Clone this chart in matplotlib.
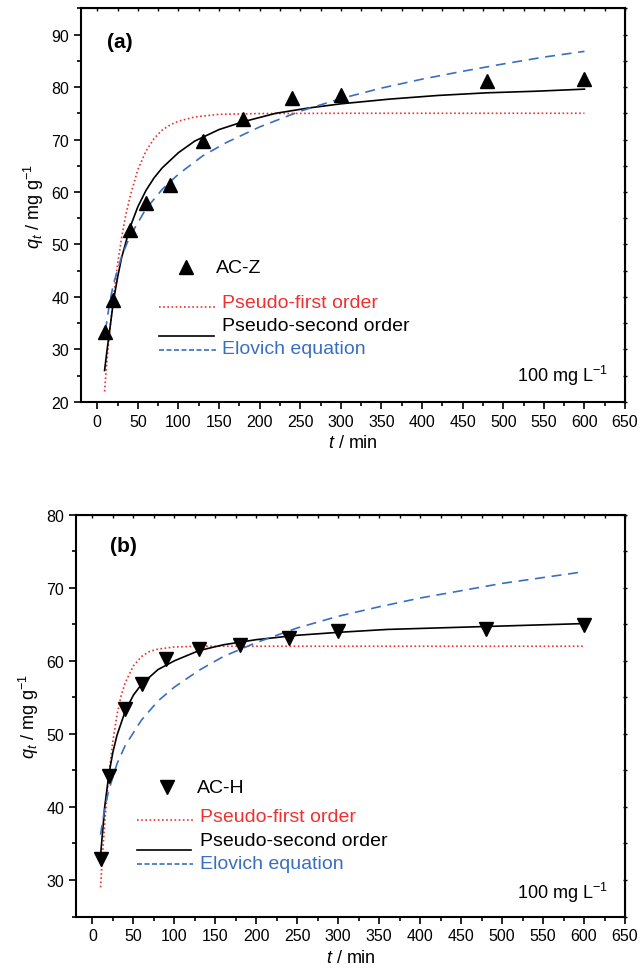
import matplotlib
matplotlib.use("Agg")
from matplotlib import pyplot as plt

plt.rcParams['font.family'] = ['Liberation Sans', 'DejaVu Sans']
plt.rcParams['mathtext.fontset'] = 'custom'
plt.rcParams['mathtext.rm'] = 'Liberation Sans'
plt.rcParams['mathtext.it'] = 'Liberation Sans:italic'

# experimental points
t_exp = [10, 20, 40, 60, 90, 130, 180, 240, 300, 480, 600]
q_acz = [33.3, 39.5, 52.8, 58.0, 61.3, 69.7, 74.0, 78.0, 78.4, 81.1, 81.5]
q_ach = [32.9, 44.2, 53.4, 56.8, 60.3, 61.6, 62.2, 63.1, 64.1, 64.4, 64.9]

# curves panel (a)
t_pfo_a = [9, 12, 15, 20, 25, 30, 35, 40, 50, 60, 70, 80, 90, 100, 120, 150, 200, 300, 400, 500, 600]
q_pfo_a = [22.0, 28.0, 33.0, 40.0, 46.2, 51.3, 55.5, 58.9, 64.3, 67.8, 70.2, 71.8, 72.8, 73.5, 74.3, 74.8, 74.95, 75.0, 75.0, 75.0, 75.0]
t_pso_a = [9, 12, 15, 20, 25, 30, 40, 50, 60, 70, 80, 100, 120, 150, 180, 220, 260, 300, 360, 420, 480, 540, 600]
q_pso_a = [26.0, 29.8, 33.3, 39.3, 43.7, 47.5, 53.1, 57.2, 60.3, 62.7, 64.6, 67.5, 69.7, 71.9, 73.4, 75.0, 76.0, 76.8, 77.7, 78.4, 78.9, 79.2, 79.6]
t_elo_a = [10, 15, 20, 30, 40, 60, 80, 100, 130, 160, 200, 250, 300, 350, 400, 450, 500, 550, 600]
q_elo_a = [33.5, 38.7, 42.5, 47.7, 51.5, 56.8, 60.5, 63.4, 66.9, 69.5, 72.4, 75.4, 77.8, 79.8, 81.5, 83.0, 84.4, 85.7, 86.8]

# curves panel (b)
t_pfo_b = [10, 12, 15, 20, 25, 30, 35, 40, 50, 60, 70, 80, 100, 130, 200, 300, 400, 500, 600]
q_pfo_b = [29.0, 32.8, 37.8, 44.4, 49.0, 52.6, 55.2, 57.0, 59.3, 60.6, 61.3, 61.6, 61.9, 62.0, 62.0, 62.0, 62.0, 62.0, 62.0]
t_pso_b = [10, 15, 20, 25, 30, 40, 50, 60, 80, 100, 130, 160, 200, 250, 300, 360, 420, 480, 540, 600]
q_pso_b = [33.4, 40.0, 44.4, 47.5, 49.8, 53.1, 55.3, 56.8, 58.8, 60.0, 61.4, 62.2, 62.9, 63.5, 63.9, 64.3, 64.5, 64.7, 64.9, 65.1]
t_elo_b = [10, 15, 20, 30, 40, 60, 80, 100, 130, 160, 200, 250, 300, 350, 400, 450, 500, 550, 600]
q_elo_b = [36.2, 39.8, 42.3, 45.9, 48.4, 51.9, 54.5, 56.4, 58.7, 60.6, 62.5, 64.5, 66.1, 67.4, 68.6, 69.6, 70.6, 71.4, 72.2]

RED = '#f03030'
BLUE = '#3a6fc0'


def style_axes(ax, ymin, ymax, yticks):
    ax.set_xlim(-20, 650)
    ax.set_ylim(ymin, ymax)
    ax.set_xticks(range(0, 651, 50))
    ax.set_xticks(range(25, 651, 50), minor=True)
    ax.set_yticks(yticks)
    ax.set_yticks(range(ymin, ymax + 1, 5), minor=True)
    ax.tick_params(which='major', direction='out', length=5, width=1.2, labelsize=11.5)
    ax.tick_params(which='minor', direction='out', length=3, width=1.2)
    for s in ax.spines.values():
        s.set_linewidth(1.5)
    ax.set_xlabel(r'$t$ / min', fontsize=13, labelpad=4)
    ax.set_ylabel(r'$q_t$ / mg g$^{-1}$', fontsize=13, labelpad=4)
    # ticks on top and right spine
    tw = ax.secondary_xaxis('top')
    tw.set_xticks(range(0, 651, 50))
    tw.set_xticks(range(25, 651, 50), minor=True)
    tw.tick_params(which='both', direction='in', length=2.5, width=1.0, labeltop=False)
    rw = ax.secondary_yaxis('right')
    rw.set_yticks(yticks)
    rw.set_yticks(range(ymin, ymax + 1, 5), minor=True)
    rw.tick_params(which='both', direction='inout', length=3, width=1.0, labelright=False)


def draw_panel(ax, q_pts, marker, name, tag, curves, key):
    (tp, qp), (ts, qs), (te, qe) = curves
    ax.plot(tp, qp, linestyle=(0, (1, 1.5)), color=RED, lw=1.2)
    ax.plot(ts, qs, '-', color='black', lw=1.2)
    ax.plot(te, qe, linestyle=(0, (6, 4)), color=BLUE, lw=1.2)
    ax.plot(t_exp, q_pts, marker, color='black', ms=9.5, linestyle='none')

    mx, my, tx, ly_r, ty_r, ly_k, ty_k, ly_b, ty_b, x0, x1 = key
    tr = ax.transAxes
    ax.plot([mx], [my], marker, color='black', ms=9.5, transform=tr)
    ax.text(tx, my, name, transform=tr, fontsize=14, va='center')
    ax.plot([x0, x1], [ly_r, ly_r], linestyle=(0, (1, 1.5)), color=RED, lw=1.2, transform=tr)
    ax.text(x1 + 0.012, ty_r, 'Pseudo-first order', color=RED, transform=tr, fontsize=14, va='center')
    ax.plot([x0, x1 - 0.004], [ly_k, ly_k], '-', color='black', lw=1.2, transform=tr)
    ax.text(x1 + 0.012, ty_k, 'Pseudo-second order', color='black', transform=tr, fontsize=14, va='center')
    ax.plot([x0, x1], [ly_b, ly_b], linestyle=(0, (3, 1.5)), color=BLUE, lw=1.2, transform=tr)
    ax.text(x1 + 0.012, ty_b, 'Elovich equation', color=BLUE, transform=tr, fontsize=14, va='center')

    ax.text(tag[0], tag[1], tag[2], transform=tr, fontsize=15, fontweight='bold', va='center')
    ax.text(0.969, tag[3], r'100 mg L$^{-1}$', transform=tr, fontsize=13, ha='right', va='center')


fig = plt.figure(figsize=(6.42, 9.79), dpi=100)
ax1 = fig.add_axes([0.1262, 0.5884, 0.8474, 0.4021])
ax2 = fig.add_axes([0.1184, 0.0628, 0.8551, 0.4104])

style_axes(ax1, 20, 95, range(20, 91, 10))
style_axes(ax2, 25, 80, range(30, 81, 10))

draw_panel(ax1, q_acz, '^', 'AC-Z', (0.047, 0.916, '(a)', 0.069),
           [(t_pfo_a, q_pfo_a), (t_pso_a, q_pso_a), (t_elo_a, q_elo_a)],
           (0.193, 0.342, 0.248, 0.240, 0.253, 0.168, 0.194, 0.133, 0.135, 0.143, 0.248))
draw_panel(ax2, q_ach, 'v', 'AC-H', (0.062, 0.923, '(b)', 0.060),
           [(t_pfo_b, q_pfo_b), (t_pso_b, q_pso_b), (t_elo_b, q_elo_b)],
           (0.165, 0.322, 0.221, 0.239, 0.250, 0.166, 0.189, 0.131, 0.133, 0.111, 0.214))

fig.savefig('out.png', dpi=100)
